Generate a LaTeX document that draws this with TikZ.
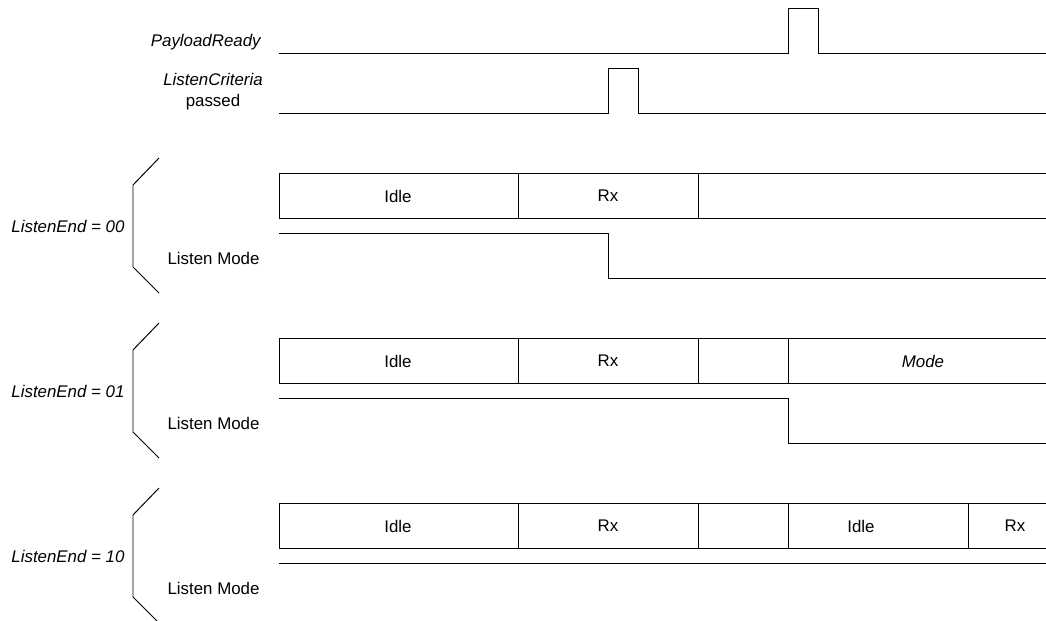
\documentclass[tikz,border=0pt]{standalone}
\usepackage{fontspec}
\setmainfont{Liberation Sans}

\begin{document}
\begin{tikzpicture}[x=0.025cm,y=-0.025cm,line width=0.7pt,
    every node/.style={font=\fontsize{12}{15}\selectfont},
    lbl/.style={anchor=east,inner sep=0pt},
    seg/.style={inner sep=0pt}]
\useasboundingbox (0,0) rectangle (1046,620);
\clip (0,0) rectangle (1046,620);

% PayloadReady
\node[lbl] (prdy) at (262,42) {\textit{PayloadReady}};
\draw (279,53) -- (788,53) -- (788,8) -- (818,8) -- (818,53) -- (1046,53);

% ListenCriteria passed
\node[align=center,inner sep=0pt] (lcrit) at (213,92) {\textit{ListenCriteria}\\passed};
\draw (279,113) -- (608,113) -- (608,68) -- (638,68) -- (638,113) -- (1046,113);

% ListenEnd = 00
\draw (159,158) -- (133,185) -- (133,267) -- (159,293);
\node[lbl] (endA) at (125,226) {\textit{ListenEnd = 00}};
\node[lbl] (lmA) at (260,258) {Listen Mode};
\draw (279,173) rectangle (518,218);
\draw (518,173) rectangle (698,218);
\draw (698,173) -- (1046,173) (698,218) -- (1046,218);
\node[seg] (idleA) at (398,196) {Idle};
\node[seg] (rxA) at (608,196) {Rx};
\draw (279,233) -- (608,233) -- (608,278) -- (1046,278);

% ListenEnd = 01
\begin{scope}[shift={(0,165)}]
\draw (159,158) -- (133,185) -- (133,267) -- (159,293);
\node[lbl] (endB) at (125,226) {\textit{ListenEnd = 01}};
\node[lbl] (lmB) at (260,258) {Listen Mode};
\draw (279,173) rectangle (518,218);
\draw (518,173) rectangle (698,218);
\draw (698,173) rectangle (788,218);
\draw (788,173) rectangle (1058,218);
\node[seg] (idleB) at (398,196) {Idle};
\node[seg] (rxB) at (608,196) {Rx};
\node[seg] (modeB) at (923,196) {\textit{Mode}};
\draw (279,233) -- (788,233) -- (788,278) -- (1046,278);
\end{scope}

% ListenEnd = 10
\begin{scope}[shift={(0,330)}]
\draw (159,158) -- (133,185) -- (133,267) -- (159,293);
\node[lbl] (endC) at (125,226) {\textit{ListenEnd = 10}};
\node[lbl] (lmC) at (260,258) {Listen Mode};
\draw (279,173) rectangle (518,218);
\draw (518,173) rectangle (698,218);
\draw (698,173) rectangle (788,218);
\draw (788,173) rectangle (968,218);
\draw (968,173) rectangle (1062,218);
\node[seg] (idleC) at (398,196) {Idle};
\node[seg] (rxC) at (608,196) {Rx};
\node[seg] (idleD) at (861,196) {Idle};
\node[seg] (rxD) at (1015,196) {Rx};
\draw (279,233) -- (1046,233);
\end{scope}
\end{tikzpicture}
\end{document}
